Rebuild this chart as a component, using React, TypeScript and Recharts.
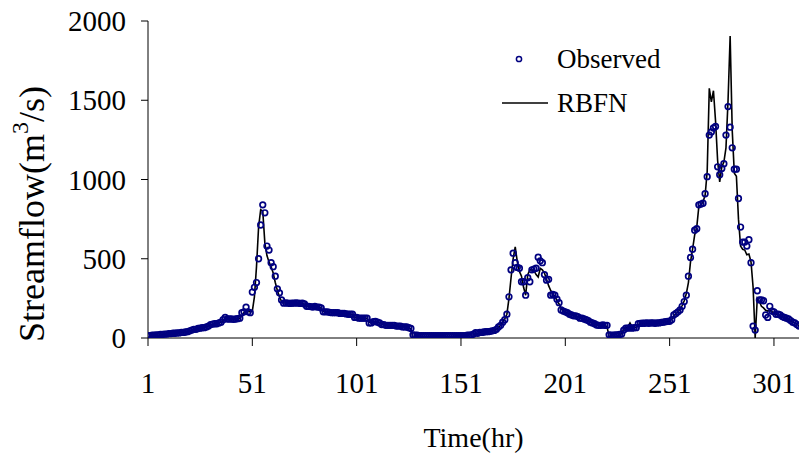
import { ComposedChart, Line, XAxis, YAxis } from "recharts";

// observed streamflow (m3/s), one value per hour
const observed = [
  15, 15, 18, 18, 20, 20, 22, 22, 25, 25,
  28, 28, 30, 30, 32, 32, 35, 35, 38, 40,
  45, 50, 55, 55, 60, 62, 65, 65, 70, 75,
  85, 88, 90, 90, 95, 100, 115, 130, 120, 120,
  120, 118, 120, 122, 125, 160, 165, 195, 165, 160,
  290, 320, 350, 500, 713, 840, 790, 580, 555, 475,
  450, 390, 310, 285, 240, 220, 222, 220, 218, 220,
  220, 222, 220, 218, 220, 215, 200, 200, 198, 195,
  200, 195, 195, 190, 165, 165, 165, 162, 160, 160,
  160, 160, 155, 155, 155, 152, 150, 150, 150, 130,
  130, 125, 125, 125, 125, 125, 95, 95, 103, 105,
  100, 95, 85, 85, 80, 80, 80, 80, 80, 75,
  75, 75, 70, 70, 70, 65, 60, 20, 18, 18,
  15, 15, 15, 15, 15, 15, 15, 15, 15, 15,
  15, 15, 15, 15, 15, 15, 15, 15, 15, 15,
  15, 15, 15, 18, 18, 20, 25, 34, 30, 35,
  35, 38, 40, 40, 42, 45, 48, 55, 70, 80,
  100, 115, 150, 260, 430, 535, 475, 445, 440, 355,
  355, 270, 380, 355, 430, 435, 440, 510, 487, 475,
  400, 365, 370, 270, 275, 270, 245, 223, 177, 170,
  165, 160, 150, 145, 140, 140, 135, 125, 125, 120,
  115, 110, 100, 95, 90, 82, 80, 80, 82, 80,
  80, 20, 18, 18, 20, 20, 22, 25, 50, 62,
  62, 65, 62, 65, 65, 90, 92, 93, 93, 95,
  93, 95, 95, 93, 95, 95, 98, 100, 103, 105,
  105, 115, 145, 155, 165, 177, 200, 230, 270, 390,
  508, 560, 680, 690, 840, 845, 850, 910, 1018, 1280,
  1300, 1325, 1335, 1080, 1030, 1070, 1100, 1280, 1460, 1330,
  1200, 1065, 1065, 880, 700, 605, 605, 580, 620, 475,
  75, 50, 298, 240, 240, 235, 145, 130, 200, 170,
  165, 150, 150, 145, 135, 130, 125, 120, 110, 100,
  95, 85, 75,
];

// RBFN model output
const rbfn = [
  5, 5, 8, 10, 12, 15, 18, 20, 22, 25,
  27, 28, 30, 30, 32, 33, 35, 36, 38, 40,
  44, 48, 52, 55, 58, 61, 64, 66, 70, 75,
  82, 86, 89, 91, 95, 100, 110, 118, 119, 120,
  120, 119, 120, 121, 124, 140, 160, 170, 168, 165,
  170, 260, 450, 700, 810, 800, 600, 520, 480, 450,
  410, 350, 300, 260, 230, 222, 221, 220, 219, 220,
  220, 221, 220, 218, 218, 212, 202, 200, 198, 196,
  197, 195, 194, 188, 170, 166, 165, 163, 161, 160,
  160, 159, 156, 155, 155, 153, 151, 150, 148, 133,
  130, 127, 125, 125, 125, 124, 100, 97, 101, 103,
  100, 96, 88, 85, 82, 80, 80, 80, 79, 77,
  75, 74, 71, 70, 70, 66, 55, 5, -5, -10,
  -10, -10, -12, -10, -10, -12, -10, -10, -15, -10,
  -10, -12, -10, -10, -20, -10, -10, -12, -10, -10,
  -10, -20, -10, -10, -8, -5, 5, 25, 28, 32,
  34, 37, 39, 40, 42, 44, 48, 55, 68, 80,
  100, 120, 150, 250, 380, 500, 575, 480, 420, 390,
  320, 270, 400, 430, 430, 425, 400, 385, 440, 430,
  410, 370, 330, 300, 275, 265, 235, 215, 185, 172,
  165, 160, 152, 146, 141, 139, 134, 127, 124, 120,
  116, 110, 102, 96, 90, 84, 80, 80, 81, 80,
  70, 10, 5, 0, 5, 10, 15, 30, 55, 62,
  70, 95, 70, 66, 68, 85, 90, 92, 93, 94,
  94, 95, 95, 94, 95, 96, 98, 100, 102, 105,
  108, 118, 140, 152, 165, 180, 205, 235, 280, 350,
  480, 560, 650, 700, 830, 840, 860, 900, 1050, 1575,
  1490, 1560, 1370, 1120, 985, 1080, 1110, 1200, 1500, 1905,
  1310, 1040, 1020, 750, 580, 560, 555, 525, 530, 480,
  320, 0, 250, 230, 200, 190, 175, 170, 175, 165,
  160, 150, 148, 142, 135, 128, 122, 118, 110, 102,
  95, 88, 78,
];

const xTicks = [1, 51, 101, 151, 201, 251, 301];
const yTicks = [0, 500, 1000, 1500, 2000];

const hours = observed.map((_, i) => i + 1);
const data = hours.map((t, i) => ({ t, observed: observed[i], rbfn: rbfn[i] }));

const FONT = "Liberation Serif";
const NAVY = "#000080";

function XTick(props: any) {
  const { x, y, payload } = props;
  return (
    <text x={x} y={y + 21} textAnchor="middle" style={{ fontFamily: FONT }} fontSize={29} fill="#000">
      {payload.value}
    </text>
  );
}

function YTick(props: any) {
  const { x, y, payload } = props;
  return (
    <text x={x} y={y + 10} textAnchor="end" style={{ fontFamily: FONT }} fontSize={29} fill="#000">
      {payload.value}
    </text>
  );
}

function YTitle() {
  return (
    <text
      transform="translate(44,214) rotate(-90)"
      textAnchor="middle"
      style={{ fontFamily: FONT }}
      fontSize={36}
      fill="#000"
    >
      Streamflow(m
      <tspan dy={-16} fontSize={24}>3</tspan>
      <tspan dy={16}>/s)</tspan>
    </text>
  );
}

export default function App() {
  return (
    <div style={{ position: "absolute", left: 0, top: 0, width: 799, height: 455, background: "#fff" }}>
      <ComposedChart
        width={799}
        height={455}
        data={data}
        margin={{ top: 21, right: 0, bottom: 0, left: 0 }}
      >
        <XAxis
          dataKey="t"
          type="number"
          domain={[1, 313]}
          ticks={xTicks}
          allowDataOverflow
          height={117}
          tickSize={8}
          tickMargin={26}
          axisLine={{ stroke: "#000" }}
          tickLine={{ stroke: "#000" }}
          tick={<XTick />}
          label={{
            value: "Time(hr)",
            position: "insideBottom",
            offset: 8,
            fill: "#000",
            fontSize: 28,
            fontFamily: FONT,
          }}
        />
        <YAxis
          type="number"
          domain={[0, 2000]}
          ticks={yTicks}
          allowDataOverflow
          width={148}
          tickSize={7}
          tickMargin={15}
          axisLine={{ stroke: "#000" }}
          tickLine={{ stroke: "#000" }}
          tick={<YTick />}
          label={<YTitle />}
        />
        <Line
          dataKey="observed"
          stroke="none"
          dot={{ r: 2.8, stroke: NAVY, strokeWidth: 1.7, fill: "none" }}
          activeDot={false}
          isAnimationActive={false}
        />
        <Line
          dataKey="rbfn"
          type="linear"
          stroke="#000"
          strokeWidth={1.6}
          dot={false}
          activeDot={false}
          isAnimationActive={false}
        />
      </ComposedChart>
      <svg
        width={799}
        height={455}
        style={{ position: "absolute", left: 0, top: 0, pointerEvents: "none" }}
      >
        <circle cx={519} cy={59} r={2.6} stroke={NAVY} strokeWidth={1.5} fill="none" />
        <text x={557} y={68} style={{ fontFamily: FONT }} fontSize={27} fill="#000">
          Observed
        </text>
        <line x1={502} y1={103} x2={548} y2={103} stroke="#000" strokeWidth={1.5} />
        <text x={557} y={112} style={{ fontFamily: FONT }} fontSize={27} fill="#000">
          RBFN
        </text>
      </svg>
    </div>
  );
}
